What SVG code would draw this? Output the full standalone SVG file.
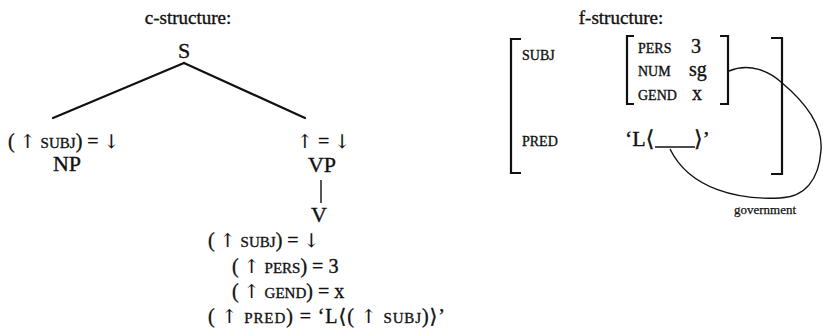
<svg xmlns="http://www.w3.org/2000/svg" width="823" height="332" viewBox="0 0 823 332">
  <style>
    text { font-family: "Liberation Serif", "DejaVu Serif", serif; fill: #111; stroke: #111; stroke-width: 0.35; }
    .title { font-size: 19px; text-anchor: middle; }
    .cat { font-size: 22px; text-anchor: middle; }
    .eq { font-size: 20px; }
    .sc { font-size: 15px; }
    .ar { font-family: "DejaVu Serif", serif; font-size: 19px; stroke-width: 0.1; }
    .feat { font-size: 14px; }
    .val { font-size: 20px; }
    .note { font-size: 13px; stroke-width: 0.25; }
    .tree { stroke: #111; stroke-width: 2.2; fill: none; stroke-linecap: round; }
    .thin { stroke: #111; stroke-width: 1.4; fill: none; }
    .brk { stroke: #111; stroke-width: 2.2; fill: none; }
    .arc { stroke: #111; stroke-width: 1.4; fill: none; }
  </style>

  <!-- c-structure tree -->
  <g id="c-structure-title"><text class="title" x="188" y="24">c-structure:</text></g>
  <g id="node-S"><text class="cat" x="184" y="58">S</text></g>
  <g id="node-NP">
    <text class="eq" x="8" y="148">( <tspan class="ar">↑</tspan> <tspan class="sc">SUBJ</tspan>) = <tspan class="ar">↓</tspan></text>
    <text class="cat" x="67" y="171">NP</text>
  </g>
  <g id="node-VP">
    <text class="eq" x="297" y="148"><tspan class="ar">↑</tspan> = <tspan class="ar">↓</tspan></text>
    <text class="cat" x="322" y="172">VP</text>
  </g>
  <g id="node-V">
    <text class="cat" x="319" y="222">V</text>
    <text class="eq" x="208" y="247">( <tspan class="ar">↑</tspan> <tspan class="sc">SUBJ</tspan>) = <tspan class="ar">↓</tspan></text>
    <text class="eq" x="232" y="273">( <tspan class="ar">↑</tspan> <tspan class="sc">PERS</tspan>) = 3</text>
    <text class="eq" x="232" y="298">( <tspan class="ar">↑</tspan> <tspan class="sc">GEND</tspan>) = x</text>
    <text class="eq" x="208" y="323" textLength="237" lengthAdjust="spacing">( <tspan class="ar">↑</tspan> <tspan class="sc">PRED</tspan>) = ‘L⟨( <tspan class="ar">↑</tspan> <tspan class="sc">SUBJ</tspan>)⟩’</text>
  </g>
  <g id="tree-edges">
    <path class="tree" d="M184,63 L53,118"/>
    <path class="tree" d="M184,63 L305,118"/>
    <path class="thin" d="M321,180 V203"/>
  </g>

  <!-- f-structure matrix -->
  <g id="f-structure-title"><text class="title" x="621" y="24">f-structure:</text></g>
  <g id="f-outer">
    <path class="brk" d="M521,39 H511 V173 H521"/>
    <path class="brk" d="M771,38 H782 V174 H771"/>
    <text class="feat" x="522" y="60">SUBJ</text>
    <text class="feat" x="522" y="146">PRED</text>
  </g>
  <g id="f-subj">
    <path class="brk" d="M634,36 H627 V104 H634"/>
    <path class="brk" d="M720,36 H728 V104 H720"/>
    <text class="feat" x="638" y="53">PERS</text>
    <text class="val" x="691" y="53">3</text>
    <text class="feat" x="638" y="76">NUM</text>
    <text class="val" x="689" y="76">sg</text>
    <text class="feat" x="638" y="100">GEND</text>
    <text class="val" x="692" y="100">x</text>
  </g>
  <g id="f-pred">
    <text class="cat" x="625" y="146" style="text-anchor:start">‘L⟨</text>
    <path class="thin" d="M655,147 H695"/>
    <text class="cat" x="694" y="146" style="text-anchor:start">⟩’</text>
  </g>
  <g id="connectors">
    <path class="arc" d="M729,71 C750,62 770,72 781,82 C805,102 823,125 821,150 C819,180 805,197 780,198 C740,200 690,190 670,149"/>
  </g>
  <g id="label-government"><text class="note" x="734" y="214">government</text></g>
</svg>
